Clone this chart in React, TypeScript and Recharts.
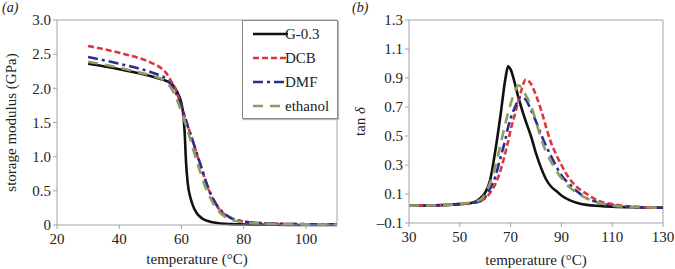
import React from 'react';
import { LineChart, Line, XAxis, YAxis, ReferenceLine, Legend, Label } from 'recharts';

// (a) storage modulus vs temperature
const TEMP_A = [30, 40, 50, 53, 55, 56, 57, 58, 59, 60, 60.5, 61, 61.5, 62, 63, 64, 65, 66, 67, 68, 69, 70, 72, 74, 76, 80, 85, 90, 100, 110];
const MOD_G03 = [2.36, 2.28, 2.18, 2.14, 2.11, 2.09, 2.06, 2.0, 1.91, 1.78, 1.65, 1.38, 0.9, 0.62, 0.38, 0.25, 0.17, 0.12, 0.085, 0.065, 0.05, 0.04, 0.025, 0.018, 0.013, 0.008, 0.005, 0.003, 0.001, 0];
const MOD_DCB = [2.62, 2.52, 2.38, 2.31, 2.23, 2.16, 2.08, 2.0, 1.87, 1.74, 1.67, 1.6, 1.53, 1.46, 1.32, 1.18, 1.03, 0.89, 0.75, 0.61, 0.49, 0.39, 0.24, 0.15, 0.1, 0.05, 0.03, 0.02, 0.012, 0.01];
const MOD_DMF = [2.46, 2.36, 2.24, 2.19, 2.14, 2.09, 2.03, 1.95, 1.85, 1.73, 1.66, 1.59, 1.52, 1.45, 1.31, 1.18, 1.04, 0.9, 0.76, 0.62, 0.5, 0.4, 0.25, 0.16, 0.1, 0.05, 0.03, 0.02, 0.012, 0.01];
const MOD_ETH = [2.39, 2.3, 2.19, 2.15, 2.1, 2.05, 1.98, 1.89, 1.78, 1.66, 1.59, 1.52, 1.45, 1.38, 1.23, 1.07, 0.92, 0.78, 0.64, 0.52, 0.42, 0.33, 0.2, 0.12, 0.08, 0.04, 0.025, 0.018, 0.01, 0.008];
const TICKS_AX = [20, 40, 60, 80, 100];
const TICKS_AY = [0, 0.5, 1, 1.5, 2, 2.5, 3];

// (b) tan delta vs temperature
const TEMP_B = [30, 40, 50, 55, 58, 60, 62, 64, 66, 68, 69, 70, 72, 73, 74, 76, 78, 80, 82, 84, 86, 88, 90, 93, 96, 100, 105, 110, 120, 130];
const TAN_G03 = [0.02, 0.022, 0.03, 0.04, 0.07, 0.11, 0.2, 0.4, 0.64, 0.9, 0.98, 0.96, 0.84, 0.77, 0.71, 0.6, 0.5, 0.38, 0.28, 0.2, 0.15, 0.12, 0.09, 0.06, 0.04, 0.025, 0.018, 0.013, 0.008, 0.005];
const TAN_DCB = [0.02, 0.022, 0.03, 0.04, 0.05, 0.07, 0.11, 0.17, 0.26, 0.39, 0.46, 0.54, 0.67, 0.74, 0.8, 0.89, 0.86, 0.78, 0.68, 0.56, 0.45, 0.37, 0.3, 0.21, 0.15, 0.1, 0.05, 0.03, 0.01, 0.005];
const TAN_DMF = [0.02, 0.022, 0.03, 0.04, 0.05, 0.08, 0.14, 0.22, 0.35, 0.48, 0.56, 0.62, 0.71, 0.75, 0.77, 0.75, 0.68, 0.6, 0.51, 0.43, 0.36, 0.29, 0.23, 0.17, 0.12, 0.07, 0.04, 0.02, 0.01, 0.005];
const TAN_ETH = [0.02, 0.022, 0.03, 0.045, 0.06, 0.1, 0.18, 0.29, 0.44, 0.59, 0.66, 0.72, 0.82, 0.85, 0.84, 0.78, 0.71, 0.6, 0.48, 0.39, 0.32, 0.26, 0.21, 0.15, 0.11, 0.07, 0.04, 0.02, 0.01, 0.005];
const TICKS_BX = [30, 50, 70, 90, 110, 130];
const TICKS_BY = [-0.1, 0.1, 0.3, 0.5, 0.7, 0.9, 1.1, 1.3];

const SERIES = [
  { key: 'g03', name: 'G-0.3', color: '#111111', dash: undefined, width: 2.6 },
  { key: 'dcb', name: 'DCB', color: '#e0353f', dash: '6 3', width: 2.6 },
  { key: 'dmf', name: 'DMF', color: '#2b2e8e', dash: '10 4 3 4', width: 2.6 },
  { key: 'eth', name: 'ethanol', color: '#8f9c62', dash: '10 7', width: 2.6 },
];

const dataA = TEMP_A.map((t, i) => ({ t, g03: MOD_G03[i], dcb: MOD_DCB[i], dmf: MOD_DMF[i], eth: MOD_ETH[i] }));
const dataB = TEMP_B.map((t, i) => ({ t, g03: TAN_G03[i], dcb: TAN_DCB[i], dmf: TAN_DMF[i], eth: TAN_ETH[i] }));

const FONT = '"Liberation Serif", "Times New Roman", serif';
const AXIS = '#a3a3a3';
const tickStyle = { fill: '#222', fontSize: 15, fontFamily: FONT };

const LegendBox = () => (
  <div style={{ width: 96, height: 99, boxSizing: 'border-box', border: '1.5px solid #8a8a8a', background: '#fff', boxShadow: '1px 1px 1px #bbb', fontFamily: FONT, fontSize: 15, color: '#222' }}>
    {SERIES.map((s) => (
      <div key={s.key} style={{ position: 'relative', height: 24, marginTop: s.key === 'g03' ? 1 : 0 }}>
        <svg width={40} height={24} style={{ position: 'absolute', left: 8, top: 0 }}>
          <line x1={2} y1={12} x2={37} y2={12} stroke={s.color} strokeWidth={s.width} strokeDasharray={s.dash} />
        </svg>
        <span style={{ position: 'absolute', left: 42, top: 3, lineHeight: '18px' }}>{s.name}</span>
      </div>
    ))}
  </div>
);

const App: React.FC = () => {
  return (
    <div style={{ position: 'absolute', left: 0, top: 0, width: 675, height: 269, background: '#fff', display: 'flex', fontFamily: FONT }}>
      {/* (a) storage modulus */}
      <div style={{ position: 'relative', width: 340, height: 269 }}>
        <span style={{ position: 'absolute', left: 2, top: 0, fontSize: 14, fontStyle: 'italic', color: '#222' }}>(a)</span>
        <LineChart width={340} height={269} data={dataA} margin={{ top: 20, right: 3, bottom: 0, left: 0 }}>
          <XAxis dataKey="t" type="number" domain={[20, 110]} ticks={TICKS_AX} stroke={AXIS} tick={tickStyle} tickSize={4} tickMargin={4} height={44}>
            <Label value="temperature (°C)" position="insideBottom" offset={5} style={{ fill: '#222', fontSize: 15, fontFamily: FONT }} />
          </XAxis>
          <YAxis type="number" domain={[0, 3]} ticks={TICKS_AY} stroke={AXIS} tick={tickStyle} tickSize={4} width={57}
            tickFormatter={(v: number) => (v === 0 ? '0' : v.toFixed(1))}>
            <Label
              content={({ viewBox }: any) => {
                const cx = 13;
                const cy = viewBox.y + viewBox.height / 2;
                return (
                  <text x={cx} y={cy} transform={`rotate(-90 ${cx} ${cy})`} textAnchor="middle" dominantBaseline="middle"
                    style={{ fill: '#222', fontSize: 15, fontFamily: FONT }}>
                    storage modulus (GPa)
                  </text>
                );
              }} />
          </YAxis>
          <ReferenceLine y={3} stroke={AXIS} strokeWidth={1} />
          <ReferenceLine x={110} stroke={AXIS} strokeWidth={1} />
          {SERIES.map((s) => (
            <Line key={s.key} dataKey={s.key} name={s.name} type="monotone" stroke={s.color} strokeWidth={s.width}
              strokeDasharray={s.dash} dot={false} isAnimationActive={false} />
          ))}
          <Legend layout="vertical" align="center" verticalAlign="middle" content={() => <LegendBox />}
            wrapperStyle={{ left: 242, top: 20, bottom: 'auto', width: 96, height: 99 }} />
        </LineChart>
      </div>

      {/* (b) tan delta */}
      <div style={{ position: 'relative', width: 335, height: 269 }}>
        <span style={{ position: 'absolute', left: 12, top: 0, fontSize: 14, fontStyle: 'italic', color: '#222' }}>(b)</span>
        <LineChart width={335} height={269} data={dataB} margin={{ top: 20, right: 12, bottom: 0, left: 0 }}>
          <XAxis dataKey="t" type="number" domain={[30, 130]} ticks={TICKS_BX} stroke={AXIS} tick={tickStyle} tickSize={4} tickMargin={4} height={46}>
            <Label value="temperature (°C)" position="insideBottom" offset={4} style={{ fill: '#222', fontSize: 15, fontFamily: FONT }} />
          </XAxis>
          <YAxis type="number" domain={[-0.1, 1.3]} ticks={TICKS_BY} stroke={AXIS} tick={tickStyle} tickSize={4} width={69}
            tickFormatter={(v: number) => v.toFixed(1).replace('-', '\u2013')}>
            <Label
              content={({ viewBox }: any) => {
                const cx = viewBox.x + 22;
                const cy = viewBox.y + viewBox.height / 2;
                return (
                  <text x={cx} y={cy} transform={`rotate(-90 ${cx} ${cy})`} textAnchor="middle" dominantBaseline="middle"
                    style={{ fill: '#222', fontSize: 15, fontFamily: FONT }}>
                    tan <tspan fontStyle="italic">δ</tspan>
                  </text>
                );
              }} />
          </YAxis>
          <ReferenceLine y={1.3} stroke={AXIS} strokeWidth={1} />
          <ReferenceLine x={130} stroke={AXIS} strokeWidth={1} />
          {SERIES.map((s) => (
            <Line key={s.key} dataKey={s.key} name={s.name} type="monotone" stroke={s.color} strokeWidth={s.width}
              strokeDasharray={s.dash} dot={false} isAnimationActive={false} />
          ))}
        </LineChart>
      </div>
    </div>
  );
};

export default App;
